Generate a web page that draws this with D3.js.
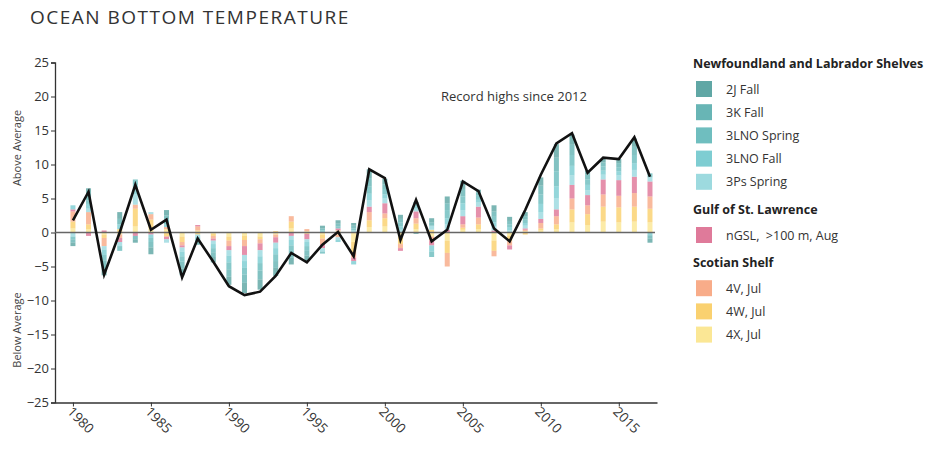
<!DOCTYPE html>
<html><head><meta charset="utf-8">
<script src="https://cdn.jsdelivr.net/npm/d3@7"></script>
<style>
body{margin:0;background:#fff;}
svg{font-family:"Open Sans",sans-serif;}
</style></head>
<body><svg id="c" width="928" height="449"></svg>
<script>
const years = d3.range(1980, 2018);
const seriesKeys = ["2J Fall","3K Fall","3LNO Spring","3LNO Fall","3Ps Spring","nGSL,\u00a0 >100 m, Aug","4V, Jul","4W, Jul","4X, Jul"];
const seriesColors = ["#4f9d9b","#58adad","#5fb7b8","#70c8cd","#92d6dc","#dc6b8f","#f7a37c","#f9cc60","#fbe48a"];
const s2J   = [-0.5,0.8,-1.0,1.0,-0.5,-1.0,0.8,-1.0,-0.4,-0.8,-1.2,-1.5,-1.5,-1.2,-1.0,-0.8,0.4,0.5,0.4,1.3,0.8,0.6,-0.2,0.6,1.0,1.2,0.4,0.9,0.6,0.6,1.2,2.0,1.5,0.6,0.5,0.6,1.2,-0.6];
const s3K   = [-0.5,1.0,-1.2,0.8,-0.5,-0.8,0.6,-1.0,-0.3,-0.7,-1.1,-1.2,-1.3,-1.0,-1.0,-0.7,0.3,0.4,0.4,1.2,0.7,0.5,0.3,0.5,1.0,1.1,0.5,0.8,0.5,0.5,1.3,2.0,1.5,0.7,0.6,0.6,1.2,-0.5];
const s3LNOs= [-0.4,0.5,-0.8,-0.7,0.8,-0.6,0.7,-0.8,-0.3,-0.6,-1.0,-1.0,-1.1,-1.0,-0.8,-0.7,-0.3,0.3,0.3,1.1,0.8,0.6,0.4,-0.8,1.2,1.0,0.6,0.8,0.4,0.5,1.4,2.2,1.6,0.8,0.6,0.6,1.2,0.6];
const s3LNOf= [0.6,0.7,-0.8,0.7,1.4,-0.5,0.4,-0.7,-0.2,-0.6,-1.0,-1.0,-1.0,-0.9,-0.8,-0.6,0.3,-0.3,-0.5,1.0,0.6,0.5,0.3,-0.9,0.9,1.0,0.4,0.6,0.5,0.4,1.2,1.8,1.4,0.8,0.6,0.6,1.0,-0.4];
const s3Ps  = [-0.6,0.5,-0.5,-0.6,1.5,0.3,-0.5,-0.6,-0.3,-0.5,-0.8,-0.9,-0.9,-0.8,-0.6,-0.4,-0.5,-0.4,0.3,0.9,0.7,0.4,0.4,0.6,0.8,0.9,0.6,0.6,0.3,0.4,1.0,1.6,1.4,0.7,0.7,0.7,1.0,0.6];
const sGSL  = [0.3,-0.5,0.3,-0.6,-0.5,-0.3,-0.4,-0.3,0.2,-0.3,-0.6,-1.3,-1.0,-0.8,-0.5,-0.8,-0.6,0.3,-0.5,0.8,1.5,-0.4,1.0,-0.7,0.4,1.2,1.6,0.3,-0.6,0.2,0.6,1.0,2.0,1.5,2.2,2.3,2.4,2.2];
const s4V   = [1.5,1.8,-1.2,-0.5,0.6,0.8,0.3,-0.5,0.6,-0.4,-0.8,-0.9,-0.6,-0.4,0.8,0.3,-0.8,-0.4,-0.8,1.2,0.7,-0.6,0.8,-0.6,-2.0,0.5,1.0,-0.8,-0.6,0.2,0.8,1.2,1.6,1.3,1.8,1.7,2.0,1.8];
const s4W   = [1.0,0.7,-0.5,0.5,2.6,1.2,-0.6,-0.8,-0.3,-0.3,-0.6,-0.6,-0.4,0.2,1.0,-0.2,-0.6,-0.3,-1.5,1.0,1.2,-1.0,0.8,0.4,-1.8,0.3,0.7,-1.5,-0.8,-0.3,0.3,0.7,1.9,1.6,2.2,2.2,2.2,2.0];
const s4X   = [0.6,0.5,-0.3,-0.3,0.9,0.7,0.5,-0.6,0.3,-0.2,-0.6,-0.5,-0.6,-0.3,0.6,0.2,-0.3,0.3,-1.4,0.8,0.9,-0.7,0.5,-0.6,-1.2,0.4,0.5,-1.2,-0.5,0.2,0.3,0.5,1.5,1.1,1.6,1.5,1.6,1.5];
const composite = [1.8,6.0,-6.2,0.0,7.0,0.4,1.9,-6.6,-0.9,-4.3,-7.9,-9.2,-8.7,-6.4,-3.0,-4.4,-1.8,0.1,-3.5,9.3,8.0,-1.1,4.8,-1.3,0.4,7.5,6.1,0.6,-1.3,3.3,8.5,13.1,14.6,8.8,11.0,10.8,14.0,8.2];
const yTicks = [25,20,15,10,5,0,-5,-10,-15,-20,-25];
const xTicks = [1980,1985,1990,1995,2000,2005,2010,2015];
const legendGroups = [
  {title:"Newfoundland and Labrador Shelves", items:[0,1,2,3,4]},
  {title:"Gulf of St. Lawrence", items:[5]},
  {title:"Scotian Shelf", items:[6,7,8]}
];

const seriesData = [s2J,s3K,s3LNOs,s3LNOf,s3Ps,sGSL,s4V,s4W,s4X];
const rows = years.map((y,i)=>{const r={year:y}; seriesKeys.forEach((k,j)=>r[k]=seriesData[j][i]); return r;});

const svg = d3.select("#c");
const x = d3.scaleLinear().domain([1978.85, 2017.45]).range([55, 657]);
const y = d3.scaleLinear().domain([-25, 25]).range([402.5, 62.5]);
const color = d3.scaleOrdinal().domain(seriesKeys).range(seriesColors);

// title
svg.append("text").attr("x",30).attr("y",24).attr("font-size",19).attr("letter-spacing",1.5)
  .attr("fill","#333").text("OCEAN BOTTOM TEMPERATURE");

// stacked bars (from zero outward: 4X ... 2J)
const stack = d3.stack().keys(seriesKeys.slice().reverse()).offset(d3.stackOffsetDiverging).order(d3.stackOrderNone);
const stacked = stack(rows);
const bw = 5;
svg.append("g").selectAll("g").data(stacked).join("g")
  .attr("fill", d=>color(d.key)).attr("fill-opacity",0.75)
  .selectAll("rect").data(d=>d).join("rect")
  .attr("x", d=>x(d.data.year)-bw/2).attr("width", bw)
  .attr("y", d=>y(Math.max(d[0],d[1]))).attr("height", d=>Math.abs(y(d[0])-y(d[1])));

// axes
const yAxis = d3.axisLeft(y).tickValues(yTicks).tickSize(4).tickPadding(2);
const gy = svg.append("g").attr("transform","translate(55,0)").call(yAxis);
gy.select(".domain").attr("stroke","#333").attr("stroke-width",1.3);
gy.selectAll(".tick line").attr("stroke","#333");
gy.selectAll(".tick text").attr("font-size",13).attr("fill","#333").attr("font-family","Open Sans");

const xAxis = d3.axisBottom(x).tickValues(xTicks).tickFormat(d3.format("d")).tickSize(4).tickSizeOuter(0);
const gx = svg.append("g").attr("transform","translate(0,402.5)").call(xAxis);
gx.select(".domain").attr("stroke","#333").attr("stroke-width",1.3);
gx.selectAll(".tick line").attr("stroke","#333");
gx.selectAll(".tick text").attr("font-size",13.5).attr("fill","#333").attr("font-family","Open Sans")
  .attr("text-anchor","start").attr("dy",null).attr("y",0)
  .attr("transform","translate(-7,10) rotate(45)");

// zero line
svg.append("line").attr("x1",55).attr("x2",655).attr("y1",y(0)).attr("y2",y(0))
  .attr("stroke","#666").attr("stroke-width",1.5);

// composite line
const line = d3.line().x((d,i)=>x(years[i])).y(d=>y(d));
svg.append("path").datum(composite).attr("d",line).attr("fill","none")
  .attr("stroke","#111").attr("stroke-width",2.6).attr("stroke-linejoin","miter");

// axis titles
svg.append("text").attr("transform","translate(21,148) rotate(-90)").attr("text-anchor","middle")
  .attr("font-size",11).attr("fill","#444").text("Above Average");
svg.append("text").attr("transform","translate(21,330) rotate(-90)").attr("text-anchor","middle")
  .attr("font-size",11).attr("fill","#444").text("Below Average");

// annotation
svg.append("text").attr("x",441).attr("y",101).attr("font-size",13).attr("fill","#333").text("Record highs since 2012");

// legend
const lg = svg.append("g");
let ly = 68;
legendGroups.forEach((g,gi)=>{
  lg.append("text").attr("x",693).attr("y",ly).attr("font-size",12.5).attr("font-weight","bold").attr("fill","#222").text(g.title);
  ly += 21;
  g.items.forEach(j=>{
    lg.append("rect").attr("x",696).attr("y",ly-8).attr("width",16).attr("height",16)
      .attr("fill",seriesColors[j]).attr("fill-opacity",0.9);
    lg.append("text").attr("x",726).attr("y",ly+4.5).attr("font-size",12.5).attr("fill","#333").text(seriesKeys[j]);
    ly += 23.2;
  });
  ly += 9;
});
</script></body></html>
